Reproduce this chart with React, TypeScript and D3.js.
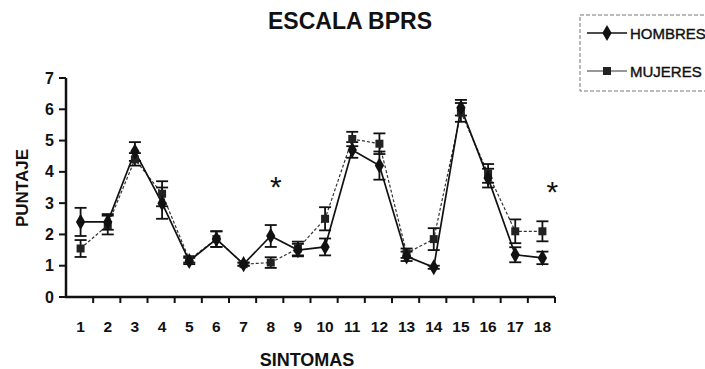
import React from "react";
import * as d3 from "d3";

const categories = [1, 2, 3, 4, 5, 6, 7, 8, 9, 10, 11, 12, 13, 14, 15, 16, 17, 18];
const hombres = [2.4, 2.4, 4.65, 3.0, 1.15, 1.85, 1.05, 1.95, 1.5, 1.6, 4.7, 4.2, 1.3, 0.95, 6.05, 3.8, 1.35, 1.25];
const hombresErr = [0.45, 0.25, 0.3, 0.5, 0.1, 0.25, 0.05, 0.35, 0.2, 0.27, 0.25, 0.45, 0.15, 0.05, 0.25, 0.3, 0.24, 0.2];
const mujeres = [1.55, 2.3, 4.4, 3.3, 1.2, 1.85, 1.05, 1.1, 1.55, 2.5, 5.05, 4.9, 1.4, 1.85, 5.9, 3.95, 2.1, 2.1];
const mujeresErr = [0.27, 0.3, 0.2, 0.4, 0.1, 0.25, 0.05, 0.17, 0.22, 0.37, 0.23, 0.33, 0.15, 0.35, 0.3, 0.3, 0.38, 0.32];
const yTicks = [0, 1, 2, 3, 4, 5, 6, 7];
// significance marks: [category position, height]
const asteriskPos = [8.22, 18.4];
const asteriskVal = [3.74, 3.58];

const W = 705;
const H = 369;
const FONT = "'Liberation Sans', Arial, sans-serif";

export default function App() {
  const x = d3.scaleLinear().domain([0.5, 18.5]).range([66, 555]);
  const y = d3.scaleLinear().domain([0, 7]).range([297, 78]);

  const hPts = categories.map((c, i) => [x(c) + 1, y(hombres[i])] as [number, number]);
  const mPts = categories.map((c, i) => [x(c) + 1, y(mujeres[i])] as [number, number]);
  const line = d3.line();
  const diamond = d3.symbol().type(d3.symbolDiamond).size(75)();
  const square = d3.symbol().type(d3.symbolSquare).size(64)();

  const errBar = (cx: number, v: number, e: number, key: string, sw: number) => {
    const y1 = y(v + e);
    const y2 = y(v - e);
    return (
      <g key={key} stroke="#111" strokeWidth={sw}>
        <line x1={cx} x2={cx} y1={y1} y2={y2} />
        <line x1={cx - 6} x2={cx + 6} y1={y1} y2={y1} />
        <line x1={cx - 6} x2={cx + 6} y1={y2} y2={y2} />
      </g>
    );
  };

  const xTickPos = d3.range(0, 19).map((k) => 0.5 + k);

  return (
    <svg
      width={W}
      height={H}
      style={{ position: "absolute", left: 0, top: 0, background: "#fff" }}
      fontFamily={FONT}
    >
      <rect width={W} height={H} fill="#fff" />
      <text x={350} y={29} textAnchor="middle" fontSize={23} fontWeight="bold" fill="#111">
        ESCALA BPRS
      </text>

      {/* Y axis */}
      <line x1={x(0.5)} x2={x(0.5)} y1={y(0) + 1} y2={y(7)} stroke="#111" strokeWidth={2.5} />
      {yTicks.map((t) => (
        <g key={"yt" + t}>
          <line x1={x(0.5) - 7} x2={x(0.5)} y1={y(t)} y2={y(t)} stroke="#111" strokeWidth={2} />
          <text x={54} y={y(t) + 5.5} textAnchor="end" fontSize={16} fontWeight="bold" fill="#111">
            {t}
          </text>
        </g>
      ))}
      <text
        transform={`translate(28,${188}) rotate(-90)`}
        textAnchor="middle"
        fontSize={17}
        fontWeight="bold"
        fill="#111"
      >
        PUNTAJE
      </text>

      {/* X axis */}
      <line x1={x(0.5) - 1} x2={x(18.5)} y1={y(0)} y2={y(0)} stroke="#111" strokeWidth={2.5} />
      {xTickPos.slice(1).map((t) => (
        <line key={"xt" + t} x1={x(t)} x2={x(t)} y1={y(0)} y2={y(0) + 6} stroke="#111" strokeWidth={2} />
      ))}
      {categories.map((c) => (
        <text key={"xl" + c} x={x(c) + 1} y={332} textAnchor="middle" fontSize={15.5} fontWeight="bold" fill="#111">
          {c}
        </text>
      ))}
      <text x={307} y={366} textAnchor="middle" fontSize={18} fontWeight="bold" fill="#111">
        SINTOMAS
      </text>

      {/* Series lines */}
      <path d={line(mPts) || ""} fill="none" stroke="#333" strokeWidth={1.2} strokeDasharray="3,2" />
      <path d={line(hPts) || ""} fill="none" stroke="#111" strokeWidth={1.7} />

      {/* Error bars */}
      {categories.map((c, i) => errBar(x(c) + 1, mujeres[i], mujeresErr[i], "me" + c, 1.8))}
      {categories.map((c, i) => errBar(x(c) + 1, hombres[i], hombresErr[i], "he" + c, 1.8))}

      {/* Markers */}
      {mPts.map((p, i) => (
        <path key={"mm" + i} d={square || ""} transform={`translate(${p[0]},${p[1]})`} fill="#222" />
      ))}
      {hPts.map((p, i) => (
        <path key={"hm" + i} d={diamond || ""} transform={`translate(${p[0]},${p[1]})`} fill="#111" />
      ))}

      {/* Significance asterisks */}
      {asteriskPos.map((c, i) => (
        <text key={"as" + i} x={x(c)} y={y(asteriskVal[i]) + 17} textAnchor="middle" fontSize={30} fill="#111">
          *
        </text>
      ))}

      {/* Legend */}
      <rect x={580} y={15} width={140} height={76} fill="none" stroke="#777" strokeWidth={1} strokeDasharray="4,2" />
      <line x1={587} x2={627} y1={33} y2={33} stroke="#111" strokeWidth={1.6} />
      <path d={diamond || ""} transform="translate(607,33)" fill="#111" />
      <text x={630} y={38.5} fontSize={15} fill="#111" stroke="#111" strokeWidth={0.4}>
        HOMBRES
      </text>
      <line x1={587} x2={627} y1={71} y2={71} stroke="#333" strokeWidth={1.2} />
      <path d={square || ""} transform="translate(607,71)" fill="#222" />
      <text x={630} y={76.5} fontSize={15} fill="#111" stroke="#111" strokeWidth={0.4}>
        MUJERES
      </text>
    </svg>
  );
}
